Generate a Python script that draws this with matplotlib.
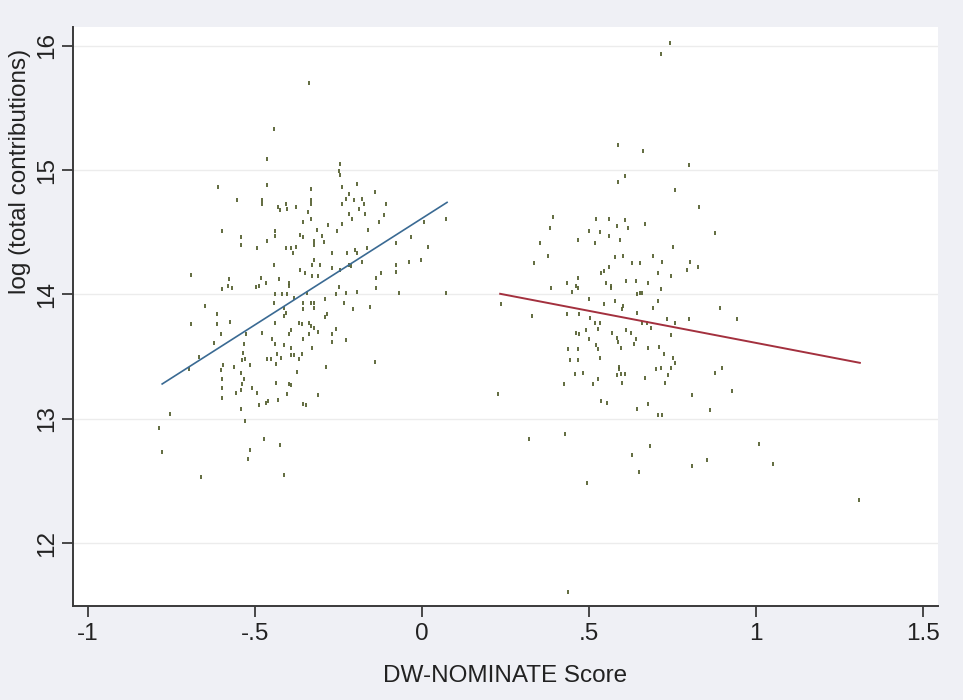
import numpy as np
import matplotlib
matplotlib.use("Agg")
import matplotlib.pyplot as plt

plt.rcParams['font.family'] = ['Liberation Sans', 'DejaVu Sans']

# Democrats (left group): DW-NOMINATE score, log(total contributions)
dem_pts = [
    (-0.338, 15.70), (-0.443, 15.33), (-0.464, 15.09), (-0.246, 15.05), (-0.249, 14.99), (-0.246, 14.96),
    (-0.611, 14.86), (-0.464, 14.88), (-0.240, 14.86), (-0.195, 14.89), (-0.332, 14.85), (-0.141, 14.82),
    (-0.220, 14.81), (-0.228, 14.77), (-0.240, 14.73), (-0.554, 14.76), (-0.479, 14.76), (-0.479, 14.73),
    (-0.180, 14.77), (-0.174, 14.73), (-0.189, 14.69), (-0.204, 14.76), (-0.332, 14.76), (-0.332, 14.73),
    (-0.108, 14.73), (-0.431, 14.70), (-0.425, 14.68), (-0.407, 14.73), (-0.404, 14.69), (-0.377, 14.70),
    (-0.171, 14.65), (-0.341, 14.66), (-0.220, 14.65), (-0.114, 14.64), (-0.210, 14.61), (-0.332, 14.61),
    (0.072, 14.61), (0.006, 14.58), (-0.129, 14.58), (-0.356, 14.58), (-0.240, 14.57), (-0.281, 14.56),
    (-0.162, 14.52), (-0.599, 14.51), (-0.440, 14.51), (-0.440, 14.47), (-0.314, 14.52), (-0.254, 14.51),
    (-0.365, 14.48), (-0.356, 14.46), (-0.033, 14.46), (-0.542, 14.46), (-0.542, 14.40), (-0.299, 14.47),
    (-0.323, 14.43), (-0.293, 14.42), (-0.323, 14.40), (-0.464, 14.43), (-0.078, 14.41), (0.018, 14.38),
    (-0.494, 14.37), (-0.407, 14.37), (-0.392, 14.37), (-0.377, 14.38), (-0.386, 14.33), (-0.200, 14.36),
    (-0.195, 14.33), (-0.165, 14.37), (-0.269, 14.33), (-0.225, 14.33), (-0.180, 14.26), (-0.039, 14.26),
    (-0.003, 14.28), (-0.219, 14.24), (-0.213, 14.23), (-0.443, 14.24), (-0.078, 14.24), (-0.078, 14.18),
    (-0.329, 14.24), (-0.305, 14.24), (-0.323, 14.28), (-0.365, 14.20), (-0.350, 14.17), (-0.246, 14.20),
    (-0.269, 14.21), (-0.123, 14.17), (-0.138, 14.13), (-0.692, 14.16), (-0.329, 14.15), (-0.311, 14.15),
    (-0.482, 14.13), (-0.467, 14.09), (-0.497, 14.06), (-0.488, 14.07), (-0.578, 14.12), (-0.581, 14.07),
    (-0.569, 14.05), (-0.428, 14.12), (-0.398, 14.09), (-0.398, 14.07), (-0.138, 14.05), (-0.249, 14.06),
    (-0.599, 14.04), (-0.195, 14.02), (-0.069, 14.01), (0.072, 14.01), (-0.440, 14.00), (-0.419, 14.00),
    (-0.404, 14.00), (-0.383, 13.97), (-0.257, 14.00), (-0.228, 14.01), (-0.344, 14.01), (-0.650, 13.91),
    (-0.443, 13.93), (-0.413, 13.89), (-0.407, 13.85), (-0.413, 13.83), (-0.356, 13.93), (-0.356, 13.88),
    (-0.332, 13.93), (-0.323, 13.93), (-0.323, 13.89), (-0.290, 13.96), (-0.234, 13.93), (-0.207, 13.88),
    (-0.156, 13.90), (-0.614, 13.84), (-0.614, 13.76), (-0.692, 13.76), (-0.575, 13.78), (-0.284, 13.84),
    (-0.290, 13.82), (-0.440, 13.77), (-0.368, 13.77), (-0.359, 13.76), (-0.338, 13.77), (-0.332, 13.75),
    (-0.323, 13.73), (-0.311, 13.70), (-0.392, 13.71), (-0.398, 13.68), (-0.479, 13.69), (-0.602, 13.68),
    (-0.527, 13.68), (-0.533, 13.60), (-0.269, 13.68), (-0.257, 13.72), (-0.338, 13.68), (-0.449, 13.64),
    (-0.440, 13.60), (-0.413, 13.59), (-0.356, 13.64), (-0.269, 13.62), (-0.228, 13.63), (-0.623, 13.61),
    (-0.329, 13.57), (-0.392, 13.57), (-0.668, 13.50), (-0.698, 13.40), (-0.596, 13.43), (-0.602, 13.39),
    (-0.599, 13.32), (-0.599, 13.25), (-0.599, 13.17), (-0.563, 13.42), (-0.539, 13.47), (-0.530, 13.48),
    (-0.515, 13.43), (-0.542, 13.37), (-0.533, 13.32), (-0.539, 13.28), (-0.509, 13.25), (-0.536, 13.53),
    (-0.557, 13.21), (-0.542, 13.23), (-0.494, 13.21), (-0.542, 13.08), (-0.530, 12.98), (-0.464, 13.48),
    (-0.452, 13.48), (-0.434, 13.52), (-0.422, 13.49), (-0.437, 13.44), (-0.392, 13.51), (-0.383, 13.51),
    (-0.368, 13.48), (-0.359, 13.52), (-0.374, 13.38), (-0.437, 13.29), (-0.398, 13.28), (-0.392, 13.27),
    (-0.404, 13.20), (-0.431, 13.15), (-0.467, 13.13), (-0.461, 13.14), (-0.488, 13.11), (-0.356, 13.12),
    (-0.347, 13.11), (-0.311, 13.19), (-0.287, 13.42), (-0.141, 13.46), (-0.754, 13.04), (-0.787, 12.93),
    (-0.778, 12.73), (-0.473, 12.84), (-0.515, 12.75), (-0.521, 12.68), (-0.425, 12.79), (-0.662, 12.53),
    (-0.413, 12.55),
]

# Republicans (right group)
rep_pts = [
    (0.743, 16.02), (0.716, 15.93), (0.587, 15.20), (0.662, 15.15), (0.608, 14.95), (0.587, 14.90),
    (0.799, 15.04), (0.757, 14.84), (0.829, 14.70), (0.877, 14.49), (0.392, 14.62), (0.383, 14.53),
    (0.353, 14.41), (0.377, 14.31), (0.335, 14.25), (0.521, 14.61), (0.560, 14.61), (0.608, 14.60),
    (0.500, 14.51), (0.533, 14.50), (0.560, 14.47), (0.584, 14.55), (0.617, 14.53), (0.467, 14.44),
    (0.518, 14.41), (0.593, 14.44), (0.668, 14.57), (0.751, 14.38), (0.578, 14.30), (0.602, 14.31),
    (0.692, 14.31), (0.560, 14.22), (0.629, 14.25), (0.653, 14.25), (0.719, 14.26), (0.802, 14.26),
    (0.793, 14.20), (0.826, 14.22), (0.536, 14.17), (0.545, 14.19), (0.467, 14.13), (0.461, 14.07),
    (0.467, 14.05), (0.434, 14.09), (0.449, 14.02), (0.386, 14.05), (0.551, 14.09), (0.566, 14.07),
    (0.566, 14.05), (0.611, 14.11), (0.641, 14.11), (0.677, 14.09), (0.707, 14.17), (0.746, 14.15),
    (0.716, 14.04), (0.644, 14.00), (0.653, 14.01), (0.659, 14.01), (0.707, 13.95), (0.500, 13.96),
    (0.578, 13.95), (0.237, 13.92), (0.545, 13.92), (0.602, 13.91), (0.599, 13.88), (0.692, 13.89),
    (0.892, 13.89), (0.329, 13.83), (0.434, 13.84), (0.470, 13.84), (0.644, 13.85), (0.503, 13.81),
    (0.518, 13.77), (0.533, 13.77), (0.527, 13.72), (0.659, 13.77), (0.674, 13.77), (0.734, 13.80),
    (0.757, 13.77), (0.799, 13.80), (0.943, 13.80), (0.686, 13.73), (0.461, 13.69), (0.470, 13.68),
    (0.491, 13.71), (0.569, 13.69), (0.611, 13.71), (0.626, 13.69), (0.746, 13.67), (0.500, 13.64),
    (0.584, 13.65), (0.587, 13.62), (0.641, 13.64), (0.635, 13.60), (0.521, 13.59), (0.527, 13.56),
    (0.677, 13.57), (0.710, 13.58), (0.596, 13.57), (0.437, 13.56), (0.467, 13.56), (0.533, 13.49),
    (0.443, 13.47), (0.467, 13.47), (0.725, 13.52), (0.751, 13.49), (0.757, 13.45), (0.590, 13.42),
    (0.584, 13.35), (0.596, 13.36), (0.608, 13.36), (0.599, 13.29), (0.590, 13.40), (0.701, 13.40),
    (0.716, 13.41), (0.746, 13.41), (0.737, 13.35), (0.728, 13.29), (0.668, 13.33), (0.458, 13.36),
    (0.482, 13.37), (0.527, 13.32), (0.512, 13.28), (0.425, 13.28), (0.877, 13.37), (0.898, 13.41),
    (0.228, 13.20), (0.536, 13.14), (0.554, 13.13), (0.644, 13.08), (0.677, 13.12), (0.707, 13.03),
    (0.719, 13.03), (0.808, 13.19), (0.862, 13.07), (0.928, 13.22), (0.320, 12.84), (0.428, 12.88),
    (0.683, 12.78), (0.629, 12.71), (0.650, 12.57), (0.808, 12.62), (0.853, 12.67), (1.009, 12.80),
    (1.051, 12.64), (1.308, 12.35), (0.494, 12.48), (0.437, 11.61),
]

# linear fit endpoints
dem_fit_x = [-0.778, 0.075]
dem_fit_y = [13.28, 14.74]
rep_fit_x = [0.234, 1.311]
rep_fit_y = [14.005, 13.45]

x_ticks = [-1, -0.5, 0, 0.5, 1, 1.5]
x_labels = ['-1', '-.5', '0', '.5', '1', '1.5']
y_ticks = [12, 13, 14, 15, 16]
y_labels = ['12', '13', '14', '15', '16']

dem = np.array(dem_pts)
rep = np.array(rep_pts)

bg = '#eff0f5'
fig = plt.figure(figsize=(9.63, 7.0), dpi=100, facecolor=bg)
ax = fig.add_axes([73 / 963, 1 - 606 / 700, 865 / 963, 579 / 700])
ax.set_facecolor('white')

for yt in y_ticks:
    ax.axhline(yt, color='#ececec', lw=1.0, zorder=0)

mk = dict(marker='|', ls='none', color='#556030', markersize=2.6, mew=1.3, zorder=2)
ax.plot(dem[:, 0], dem[:, 1], **mk)
ax.plot(rep[:, 0], rep[:, 1], **mk)

ax.plot(dem_fit_x, dem_fit_y, color='#3a6a93', lw=1.2, zorder=3)
ax.plot(rep_fit_x, rep_fit_y, color='#a3303e', lw=1.4, zorder=3)

ax.set_xlim(-1.045, 1.545)
ax.set_ylim(11.495, 16.15)

for s in ['top', 'right']:
    ax.spines[s].set_visible(False)
for s in ['left', 'bottom']:
    ax.spines[s].set_color('#3a3a3a')
    ax.spines[s].set_linewidth(1.4)

ax.set_xticks(x_ticks)
ax.set_xticklabels(x_labels)
ax.set_yticks(y_ticks)
ax.set_yticklabels(y_labels, rotation=90, va='center')
ax.tick_params(axis='both', length=8, width=1.3, color='#3a3a3a', labelsize=17.5, labelcolor='#222222')
ax.tick_params(axis='x', pad=4)
ax.tick_params(axis='y', pad=3)

fig.text(505 / 963, 1 - 682 / 700, 'DW-NOMINATE Score', ha='center', va='baseline',
         fontsize=17.5, color='#222222')
fig.text(20 / 963, 1 - 171 / 700, 'log (total contributions)', ha='center', va='center',
         rotation=90, fontsize=17.5, color='#222222')

fig.savefig('out.png', dpi=100, facecolor=bg)
